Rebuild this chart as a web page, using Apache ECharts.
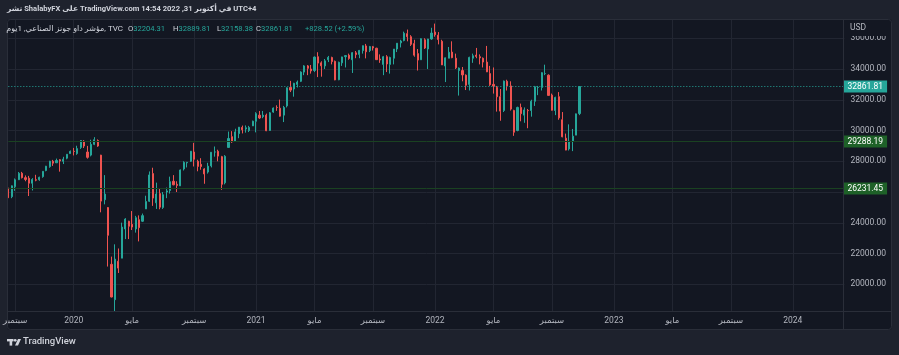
<!DOCTYPE html>
<html>
<head>
<meta charset="utf-8">
<script src="https://cdn.jsdelivr.net/npm/echarts@6/dist/echarts.min.js"></script>
<style>
html,body{margin:0;padding:0;background:#1e222d;}
#c{width:899px;height:355px;}
</style>
</head>
<body>
<div id="c"></div>
<script>
// Weekly candles (week starting Monday), Dow Jones Industrial Average, from 2019-08-19
const startWeek = '2019-08-19';
const totalWeeks = 244;
const opens = [26000,25700,26350,26800,27220,26935,26900,26570,26800,26800,27000,27400,27650,28000,27900,28100,28000,28200,28500,28650,
28500,28900,29300,28600,28400,29100,29350,28400,25500,24990,21300,19000,21500,21700,23600,24100,23900,23600,24200,24100,
24900,25400,27200,25300,25900,25000,26000,26100,26700,26500,26400,27500,27900,28000,28600,28000,27800,27500,27300,27700,
28600,28650,28300,26600,28900,29600,29300,29800,30200,30100,30000,30300,30600,31000,30900,31000,30000,31200,31500,31450,
31000,31600,32800,32700,33000,33200,33800,34200,34000,33900,34800,34400,34200,34600,34750,34500,33300,34400,34800,34900,
34600,35050,34950,35200,35500,35200,35450,35350,34650,34300,34800,34300,34700,35300,35700,35850,36300,36100,35650,35000,
34600,35900,35300,35950,36400,36200,35800,34200,34700,35100,34700,33900,33900,33600,33000,34700,34900,34800,34700,34450,
33700,33000,32800,32200,31300,33200,32900,31300,30000,31500,31000,31300,31300,31900,32800,32800,33700,33600,32300,31300,
32200,30700,29500,28800,29300,29700,31100];
const closes = [25628,26403,26797,27220,26935,26820,26573,26817,26770,26958,27347,27681,28005,27876,28051,28015,28135,28455,28645,28634,
28824,29348,28990,28256,29103,29398,28992,25409,25865,23186,19174,21637,21053,23719,24242,23775,23724,24331,23685,24465,
25383,27111,25605,25871,25016,25827,26075,26672,26470,26428,27433,27931,27930,28654,28133,27666,27657,27174,27683,28587,
28606,28335,26502,28323,29480,29263,29910,30218,30046,30179,30200,30606,31098,30814,30997,29983,31148,31458,31494,30932,
31496,32779,32628,33073,33153,33801,34200,34043,33875,34778,34382,34208,34529,34756,34480,33290,34433,34786,34870,34687,
35062,34935,35208,35515,35120,35455,35369,34607,34584,34798,34326,34746,35295,35677,35820,36328,36100,35602,34899,34580,
35971,35365,35950,36338,36231,35912,34265,34725,35089,34738,34079,34059,33615,32944,34754,34861,34818,34721,34451,33811,
32977,32899,32197,31262,33213,32899,31393,29889,31501,31097,31338,31289,31899,32845,32803,33761,33706,32283,31318,32152,
30822,29590,28726,29297,29634,31083,32861.81];
const lows = [25620,25600,26080,26780,26880,26700,25740,26100,26700,26730,26930,27350,27580,27700,27900,27325,27820,28130,28490,28380,
28420,28800,28860,28170,28320,29050,28940,24681,25200,21154,19150,18213,20735,21700,22941,22940,23530,23361,22790,24050,
24900,25350,25100,24900,24880,24900,25600,25900,26440,26000,26400,27400,27600,27950,27660,27350,27450,26537,27200,27600,
28300,28000,26143,26500,28900,29200,29300,29500,29810,29860,29900,30300,29880,30750,30800,29960,29980,31150,31280,30900,
30550,31500,32500,32200,32800,33150,33600,33600,33700,33800,33473,33500,34000,34450,34300,33270,33270,34200,34100,34600,
33741,34700,34700,35000,34690,35100,35200,34600,34400,33600,33800,33700,34300,35100,35400,35800,35800,35500,34800,33900,
34600,35300,34000,35900,36100,35600,34260,33150,34700,34700,34000,32272,33200,32632,32600,34400,34700,34300,34100,33800,
32900,32400,31230,30635,31200,32600,31300,29653,29950,30600,30500,30150,30900,31600,32300,32600,33600,32280,31300,31000,
30700,29560,28715,28700,28660,29700,31000];
const highs = [26280,26425,26880,27300,27310,27080,27050,26900,27120,27000,27350,27700,28030,28090,28175,28140,28290,28460,28700,28870,
29010,29370,29373,29000,29400,29568,29420,28420,27100,25020,21800,22600,22330,24008,24300,24130,24764,24450,24480,24600,
25760,27338,27580,26610,26200,26000,26290,27000,27100,26700,27470,28000,27960,28660,29199,28100,28200,27550,27900,28600,
28960,28750,28350,28400,29933,29960,30116,30230,30320,30330,30300,30640,31190,31270,31270,31100,31200,31500,31640,32010,
31600,32800,33227,33100,33250,33850,34250,34260,34260,34811,35091,34500,34650,34850,34800,34550,34480,34800,34900,35000,
35100,35170,35240,35530,35631,35500,35500,35380,34950,34850,34900,34800,35300,35690,35900,36430,36565,36200,35900,35300,
36000,36000,35960,36680,36952,36400,35900,34750,35430,35800,35000,34100,34130,33650,34800,35000,35370,34950,34750,35500,
34200,34100,32900,32700,33250,33300,33200,31350,31550,31750,31500,31400,32000,32900,32900,33790,34281,33650,32400,32200,
32500,31200,29800,30400,30100,31100,32890];
const tickWeeks = ['2019-09-02','2019-12-30','2020-04-27','2020-08-31','2021-01-04','2021-05-03','2021-08-30','2022-01-03','2022-05-02','2022-08-29','2023-01-02','2023-05-01','2023-08-28','2024-01-01'];
const tickTexts = ['سبتمبر','2020','مايو','سبتمبر','2021','مايو','سبتمبر','2022','مايو','سبتمبر','2023','مايو','سبتمبر','2024'];
const priceLevels = [32861.81, 29288.19, 26231.45];
const lastBar = {o:'32204.31', h:'32889.81', l:'32158.38', c:'32861.81', chg:'+828.52 (+2.59%)'};

// category axis of week start dates
const weeks = [];
const t0 = Date.parse(startWeek + 'T00:00:00Z');
for (let i = 0; i < totalWeeks; i++) {
  weeks.push(new Date(t0 + i * 7 * 86400000).toISOString().slice(0, 10));
}
const candles = opens.map((o, i) => [o, closes[i], lows[i], highs[i]]);

const UP = '#26a69a', DOWN = '#ef5350';
const FONT = 'Roboto, "DejaVu Sans", sans-serif';
const chart = echarts.init(document.getElementById('c'), null, {renderer: 'canvas'});

const boxLabel = (bg) => ({
  show: true, position: 'end', distance: -1,
  formatter: p => p.value.toFixed(2),
  backgroundColor: bg, color: '#ffffff', fontSize: 8.5, fontFamily: FONT,
  padding: [2, 4, 1, 4], lineHeight: 9
});
const hdr = (letter, val) => ({
  text: '{l|' + letter + '}{v|' + val + '}',
  rich: {l: {fill: '#d1d4dc', font: '7.6px ' + FONT}, v: {fill: UP, font: '7.6px ' + FONT}}
});

chart.setOption({
  backgroundColor: '#1e222d',
  animation: false,
  grid: {left: 7.25, right: 899 - 844.4, top: 19, bottom: 355 - 311, containLabel: false},
  xAxis: {
    type: 'category', data: weeks, boundaryGap: false,
    axisLine: {show: false}, axisTick: {show: false},
    axisLabel: {
      interval: (idx, val) => tickWeeks.indexOf(val) >= 0,
      formatter: val => tickTexts[tickWeeks.indexOf(val)] || '',
      color: '#b2b5be', fontSize: 8.5, fontFamily: FONT, margin: 5
    },
    splitLine: {show: true, interval: (idx, val) => tickWeeks.indexOf(val) >= 0,
      lineStyle: {color: '#222632', width: 1}}
  },
  yAxis: {
    type: 'value', position: 'right', min: 18264, max: 37251, splitNumber: 10, scale: true,
    axisLine: {show: false}, axisTick: {show: false},
    axisLabel: {formatter: v => v.toFixed(2), color: '#b2b5be', fontSize: 8.5, fontFamily: FONT,
      margin: 6, showMinLabel: false, showMaxLabel: false},
    splitLine: {lineStyle: {color: '#222632', width: 1}}
  },
  series: [{
    type: 'candlestick', data: candles, barWidth: 1.6,
    itemStyle: {color: UP, color0: DOWN, borderColor: UP, borderColor0: DOWN, borderWidth: 1},
    markLine: {
      silent: true, symbol: ['none', 'none'], animation: false,
      data: [
        {yAxis: priceLevels[0], lineStyle: {color: UP, type: [1, 2], width: 1}, label: boxLabel(UP)},
        {yAxis: priceLevels[1], lineStyle: {color: '#1a4221', type: 'solid', width: 1}, label: boxLabel('#1e6128')},
        {yAxis: priceLevels[2], lineStyle: {color: '#1a4221', type: 'solid', width: 1}, label: boxLabel('#1e6128')}
      ]
    }
  }],
  graphic: [
    // pane background
    {type: 'rect', z: -100, shape: {x: 7, y: 19, width: 885, height: 311, r: 3}, style: {fill: '#131722'}},
    // frame & separators
    {type: 'rect', z: 100, shape: {x: 7.5, y: 19.5, width: 884, height: 310, r: 3}, style: {fill: 'none', stroke: '#2a2e39', lineWidth: 1}},
    {type: 'line', z: 100, shape: {x1: 843.5, y1: 19.5, x2: 843.5, y2: 329.5}, style: {stroke: '#2a2e39', lineWidth: 1}},
    {type: 'line', z: 100, shape: {x1: 7.5, y1: 311.5, x2: 891.5, y2: 311.5}, style: {stroke: '#2a2e39', lineWidth: 1}},
    // USD label covering top of axis
    {type: 'rect', z: 90, shape: {x: 844, y: 20, width: 47, height: 16}, style: {fill: '#131722'}},
    {type: 'text', z: 101, left: 850, top: 23, style: {text: 'USD', fill: '#b2b5be', font: '8.5px ' + FONT}},
    // header line 1
    {type: 'text', z: 101, left: 7, top: 5, style: {text: 'نشر ShalabyFX على TradingView.com في أكتوبر 31, 2022 14:54 UTC+4', fill: '#d1d4dc', font: 'bold 7.6px ' + FONT}},
    // header line 2
    {type: 'text', z: 101, x: 123, y: 29, style: {text: 'مؤشر داو جونز الصناعي, 1يوم, TVC', fill: '#d1d4dc', font: '8px ' + FONT, align: 'right', verticalAlign: 'middle'}},
    {type: 'text', z: 101, x: 128, y: 29, style: Object.assign(hdr('O', lastBar.o), {verticalAlign: 'middle'})},
    {type: 'text', z: 101, x: 173, y: 29, style: Object.assign(hdr('H', lastBar.h), {verticalAlign: 'middle'})},
    {type: 'text', z: 101, x: 217, y: 29, style: Object.assign(hdr('L', lastBar.l), {verticalAlign: 'middle'})},
    {type: 'text', z: 101, x: 256, y: 29, style: Object.assign(hdr('C', lastBar.c), {verticalAlign: 'middle'})},
    {type: 'text', z: 101, x: 305, y: 29, style: {text: lastBar.chg, fill: UP, font: '7.6px ' + FONT, verticalAlign: 'middle'}},
    // TradingView logo
    {type: 'group', z: 101, children: [
      {type: 'rect', shape: {x: 7, y: 339, width: 6.5, height: 2.4}, style: {fill: '#d1d4dc'}},
      {type: 'rect', shape: {x: 9.6, y: 339, width: 2.6, height: 6.6}, style: {fill: '#d1d4dc'}},
      {type: 'circle', shape: {cx: 15.2, cy: 340.3, r: 1.4}, style: {fill: '#d1d4dc'}},
      {type: 'polygon', shape: {points: [[18, 339], [21, 339], [18, 345.6], [15, 345.6]]}, style: {fill: '#d1d4dc'}}
    ]},
    {type: 'text', z: 101, left: 23, top: 336.5, style: {text: 'TradingView', fill: '#d1d4dc', font: '500 9.5px ' + FONT}}
  ]
});
</script>
</body>
</html>
